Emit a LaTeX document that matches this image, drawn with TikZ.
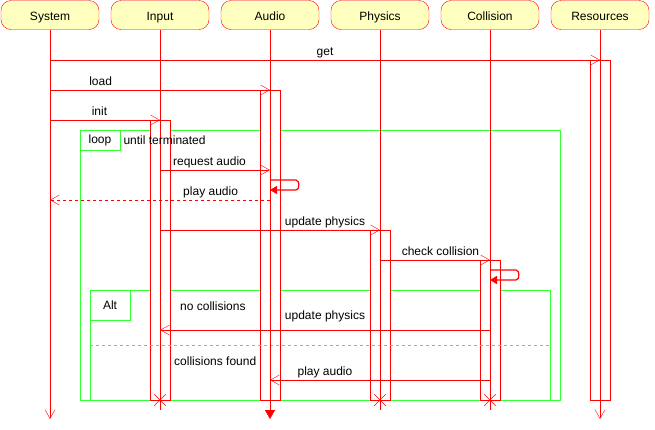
\documentclass[tikz,border=0pt]{standalone}
\usepackage{fontspec}
\setmainfont{Liberation Sans}
\usetikzlibrary{arrows.meta,shapes.misc}
\definecolor{hdrfill}{RGB}{255,255,192}
\definecolor{frgreen}{RGB}{51,255,51}

\begin{document}
\begin{tikzpicture}[x=1pt,y=-1pt,font=\fontsize{12}{14}\selectfont,
  head/.style={draw=red,fill=hdrfill,rounded corners=10pt,minimum width=98pt,minimum height=29pt,inner sep=0pt,text height=10pt,text depth=0pt},
  act/.style={draw=red,fill=white,minimum width=20pt,inner sep=0pt,outer sep=0pt,anchor=north},
  life/.style={red},
  frame/.style={draw=frgreen,anchor=north west,inner sep=0pt,outer sep=0pt},
  msg/.style={red,-{Straight Barb[length=9pt,width=10pt]}},
  selfmsg/.style={red,line width=1.2pt,-{Triangle[length=7pt,width=8pt]}},
  lbl/.style={above,text=black,inner sep=1pt,text height=9pt,text depth=3pt},
  kill/.style={draw=red,cross out,minimum size=11pt,inner sep=0pt}]
  \useasboundingbox (0,0) rectangle (655,429);
  \foreach \n/\t [count=\i from 0] in {sys/System,inp/Input,aud/Audio,phy/Physics,col/Collision,res/Resources}
    \node[head] (\n) at (50+110*\i,15) {\t};
  \foreach \r/\y in {get/60,load/90,init/120,req/170,selfA/180,play/200,upd/230,chk/260,selfC/270,updB/330,sep/345,playB/380,stop/400,endX/410,endL/419}
    \coordinate (\r) at (0,\y);

  \node[frame,minimum width=480pt,minimum height=270pt] (loopF) at (80,130) {};
  \node[frame,minimum width=40pt,minimum height=20pt] (loopT) at (loopF.north west) {loop};
  \node[frame,minimum width=460pt,minimum height=110pt] (altF) at (90,290) {};
  \node[frame,minimum width=40pt,minimum height=30pt] (altT) at (altF.north west) {Alt};

  \node[act,minimum height=340pt] (resA) at (res |- get) {};
  \node[act,minimum height=310pt] (audA) at (aud |- load) {};
  \node[act,minimum height=280pt] (inpA) at (inp |- init) {};
  \node[act,minimum height=170pt] (phyA) at (phy |- upd) {};
  \node[act,minimum height=140pt] (colA) at (col |- chk) {};
  \draw[frgreen,dashed] (altF.west |- sep) -- (altF.east |- sep);

  \draw[life,-{Straight Barb[length=9pt,width=10pt]}] (sys) -- (sys |- endL);
  \draw[life,-{Straight Barb[length=9pt,width=10pt]}] (res) -- (res |- endL);
  \draw[life,-{Triangle[length=9pt,width=10pt]}] (aud) -- (aud |- endL);
  \foreach \n in {inp,phy,col} {
    \draw[life] (\n) -- (\n |- endX);
    \node[kill] at (\n |- stop) {};
  }

  \node[anchor=west] (loopL) at (loopT.east) {until terminated};
  \node[anchor=west,inner sep=0pt] (noC) at (180,306) {no collisions};
  \node[anchor=west,inner sep=0pt] (yesC) at (174,361) {collisions found};

  \path[msg] (sys |- get) edge node[lbl] {get} (res |- get)
    (sys |- load) edge node[lbl,pos=.23] {load} (aud |- load)
    (sys |- init) edge node[lbl,pos=.45] {init} (inp |- init)
    (inp |- req) edge node[lbl,pos=.45] {request audio} (aud |- req)
    (inp |- upd) edge node[lbl,pos=.75] {update physics} (phy |- upd)
    (phy |- chk) edge node[lbl,pos=.55] {check collision} (col |- chk)
    (col |- updB) edge node[lbl,above=6pt] {update physics} (inp |- updB)
    (col |- playB) edge node[lbl,pos=.75] {play audio} (aud |- playB);
  \path[msg,dashed] (aud |- play) edge node[lbl,pos=.27] {play audio} (sys |- play);
  \draw[selfmsg] (aud |- selfA) -- ++(26,0) to[out=0,in=0] ++(0,10) -- ++(-26,0);
  \draw[selfmsg] (col |- selfC) -- ++(26,0) to[out=0,in=0] ++(0,10) -- ++(-26,0);
\end{tikzpicture}
\end{document}
